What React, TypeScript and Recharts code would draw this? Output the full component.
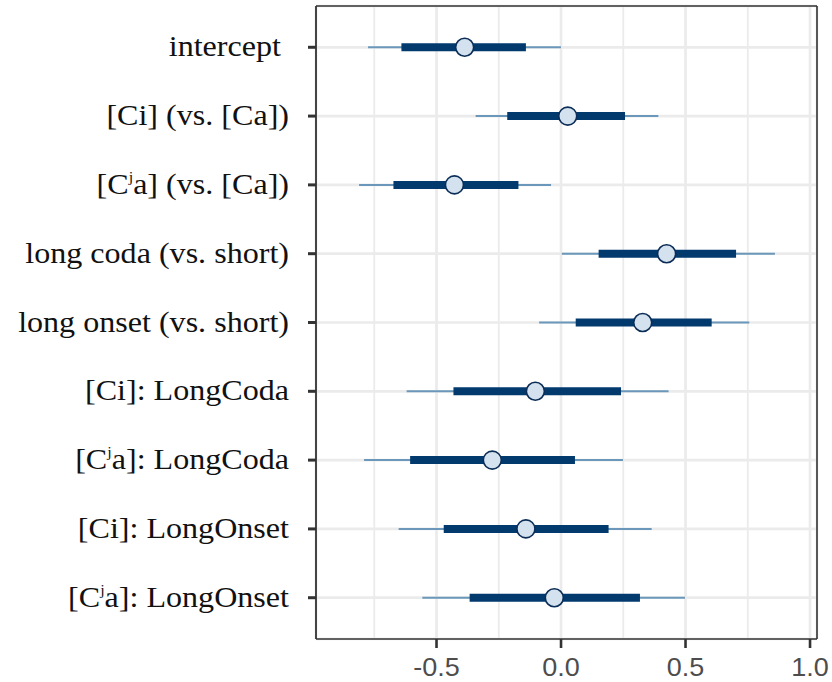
import React from 'react';
import { ScatterChart, Scatter, ErrorBar, XAxis, YAxis, CartesianGrid, ReferenceLine } from 'recharts';

// coefficient names, top to bottom ("ʲ" is drawn as a raised j)
const LABELS = [
    'intercept ',
    '[Ci] (vs. [Ca])',
    '[Cʲa] (vs. [Ca])',
    'long coda (vs. short)',
    'long onset (vs. short)',
    '[Ci]: LongCoda',
    '[Cʲa]: LongCoda',
    '[Ci]: LongOnset',
    '[Cʲa]: LongOnset',
];
const ESTIMATE = [-0.387, 0.027, -0.428, 0.424, 0.328, -0.103, -0.276, -0.141, -0.027];
const OUTER_LO = [-0.775, -0.343, -0.811, 0.003, -0.088, -0.62, -0.791, -0.652, -0.557];
const OUTER_HI = [0.0, 0.391, -0.04, 0.859, 0.756, 0.432, 0.249, 0.364, 0.498];
const INNER_LO = [-0.641, -0.216, -0.673, 0.151, 0.059, -0.432, -0.606, -0.471, -0.367];
const INNER_HI = [-0.141, 0.257, -0.171, 0.703, 0.605, 0.241, 0.056, 0.191, 0.317];

const X_TICKS = [-0.5, 0, 0.5, 1.0];
const X_MINOR = [-0.75, -0.25, 0.25, 0.75];
const X_DOMAIN = [-0.984, 1.028];
const Y_DOMAIN = [0.4, 9.6];
const ROWS = LABELS.map((_, i) => i + 1);

const rows = LABELS.map((name, i) => ({
    name,
    row: i + 1,
    est: ESTIMATE[i],
    outer: [ESTIMATE[i] - OUTER_LO[i], OUTER_HI[i] - ESTIMATE[i]],
    inner: [ESTIMATE[i] - INNER_LO[i], INNER_HI[i] - ESTIMATE[i]],
}));

const GRID = '#ebebeb';
const BORDER = '#333333';

const YTick = (props: any) => {
    const { x, y, payload } = props;
    const label = LABELS[payload.value - 1] || '';
    const parts = label.split('ʲ');
    return (
        <g transform={`translate(${x},${y + 9}) scale(1.07,1)`}>
            <text textAnchor="end" fill="#111" fontSize={30}
                style={{ fontFamily: '"Liberation Serif", "Times New Roman", serif', whiteSpace: 'pre' }}>
                {parts.length === 1 ? label : (
                    <>
                        <tspan>{parts[0]}</tspan>
                        <tspan fontSize={15} dy={-12}>j</tspan>
                        <tspan dy={12}>{parts[1]}</tspan>
                    </>
                )}
            </text>
        </g>
    );
};

const XTick = (props: any) => {
    const { x, y, payload } = props;
    return (
        <g transform={`translate(${x},${y}) scale(1.08,1)`}>
            <text textAnchor="middle" y={26} fill="#4d4d4d" fontSize={25}
                style={{ fontFamily: '"Liberation Sans", Arial, sans-serif' }}>
                {payload.value.toFixed(1)}
            </text>
        </g>
    );
};

const Dot = (props: any) => (
    <circle cx={props.cx} cy={props.cy} r={9} fill="#d3e2ee" stroke="#0c2d57" strokeWidth={1.6} />
);

// minor vertical gridlines at X_MINOR, mapped through the x axis scale
const minorLines = ({ xAxis, offset }: any) => {
    const scale = xAxis && xAxis.scale;
    if (scale && typeof scale.map === 'function' && typeof scale !== 'function') {
        return X_MINOR.map((v) => scale.map(v));
    }
    if (typeof scale === 'function') return X_MINOR.map((v) => scale(v));
    return X_MINOR.map((v) => offset.left + ((v - X_DOMAIN[0]) / (X_DOMAIN[1] - X_DOMAIN[0])) * offset.width);
};

export default function App() {
    return (
        <div style={{ position: 'absolute', left: 0, top: 0, background: '#fff' }}>
            <ScatterChart width={832} height={682} margin={{ top: 6, right: 15, bottom: 0, left: 0 }}>
                <CartesianGrid
                    horizontal={false}
                    verticalCoordinatesGenerator={minorLines}
                    stroke={GRID}
                    strokeWidth={1.8}
                />
                <CartesianGrid stroke={GRID} strokeWidth={2.7} />
                <XAxis
                    type="number"
                    dataKey="est"
                    domain={X_DOMAIN}
                    ticks={X_TICKS}
                    allowDataOverflow
                    height={43}
                    tickSize={9}
                    tickMargin={2}
                    tick={<XTick />}
                    axisLine={{ stroke: BORDER, strokeWidth: 1.6 }}
                    tickLine={{ stroke: BORDER, strokeWidth: 2.6 }}
                />
                <YAxis
                    type="number"
                    dataKey="row"
                    domain={Y_DOMAIN}
                    ticks={ROWS}
                    reversed
                    allowDataOverflow
                    width={316}
                    tickSize={8}
                    tickMargin={19}
                    tick={<YTick />}
                    axisLine={{ stroke: BORDER, strokeWidth: 1.8 }}
                    tickLine={{ stroke: BORDER, strokeWidth: 3 }}
                />
                {/* top and right sides of the panel border */}
                <ReferenceLine y={Y_DOMAIN[0]} stroke={BORDER} strokeWidth={1.6} ifOverflow="visible" />
                <ReferenceLine x={X_DOMAIN[1]} stroke={BORDER} strokeWidth={1.6} ifOverflow="visible" />
                <Scatter data={rows} shape={<Dot />} isAnimationActive={false}>
                    <ErrorBar dataKey="outer" direction="x" width={0} stroke="#6b98ba" strokeWidth={2} isAnimationActive={false} />
                    <ErrorBar dataKey="inner" direction="x" width={0} stroke="#023a6e" strokeWidth={8} isAnimationActive={false} />
                </Scatter>
            </ScatterChart>
        </div>
    );
}
